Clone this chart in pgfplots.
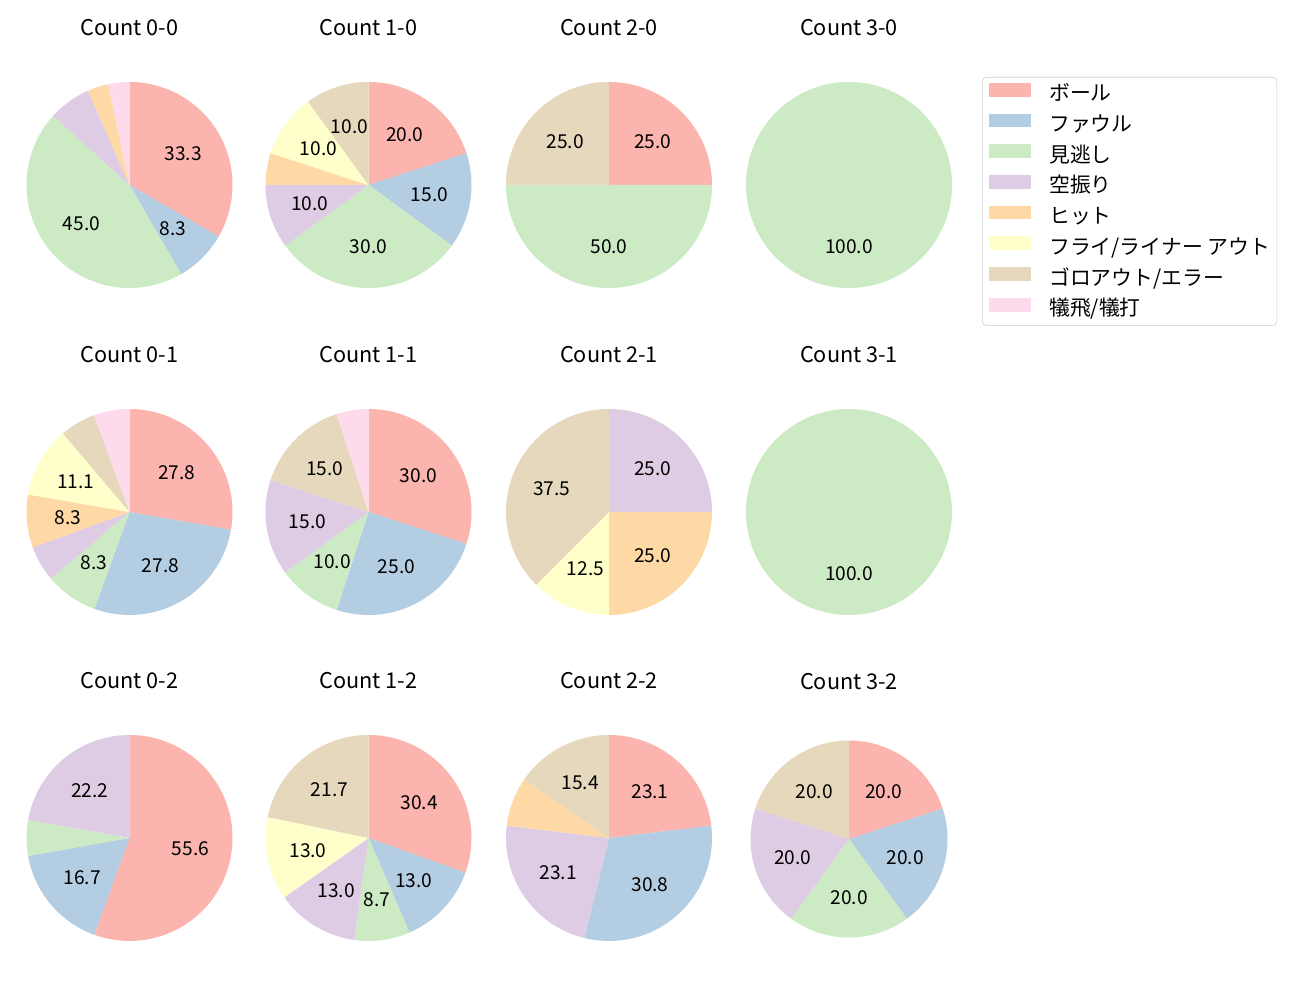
\documentclass[border=0pt]{standalone}
\usepackage{pgfplots}
\pgfplotsset{compat=1.18}
\usepackage{fontspec}
\setmainfont{Noto Sans CJK JP}
\definecolor{c1}{HTML}{FBB4AE}
\definecolor{c2}{HTML}{B3CDE3}
\definecolor{c3}{HTML}{CCEBC5}
\definecolor{c4}{HTML}{DECBE4}
\definecolor{c5}{HTML}{FED9A6}
\definecolor{c6}{HTML}{FFFFCC}
\definecolor{c7}{HTML}{E5D8BD}
\definecolor{c8}{HTML}{FDDAEC}
\pgfplotsset{legend image code/.code={\fill[#1, draw=none, sharp corners] (0pt,-1pt) rectangle (30.2pt,9pt);}}
\newcommand{\ttl}{\fontsize{15.6}{18}\selectfont}
\newcommand{\lbl}{\fontsize{13.8}{16}\selectfont}
% #1 cx px, #2 cy px (from top), #3 title, #4 radius px, #5 values, #6 axis options, #7 extra body
\newcommand{\pie}[7]{%
  \pgfmathsetmacro\R{0.72*#4}%
  \pgfmathsetmacro\D{2*\R}%
  \pgfmathsetmacro\LR{0.6*\R}%
  \pgfmathsetmacro\PX{0.72*#1}%
  \pgfmathsetmacro\PY{0.72*(1000-#2)}%
  \gdef\tot{0}%
  \foreach \v in {#5}{\pgfmathsetmacro\t{\tot+\v}\xdef\tot{\t}}%
  \begin{axis}[at={(\PX pt,\PY pt)}, anchor=center, scale only axis,
    width=\D pt, height=\D pt, hide axis, clip=false,
    xmin=-1, xmax=1, ymin=-1, ymax=1, #6]
  \addplot[draw=none, forget plot] coordinates {(0,0)};
  \gdef\cum{0}%
  \foreach \v [count=\i] in {#5}{%
    \pgfmathsetmacro\a{90-360*(\cum/\tot)}%
    \pgfmathsetmacro\b{90-360*((\cum+\v)/\tot)}%
    \pgfmathsetmacro\m{(\a+\b)/2}%
    \ifdim\v pt>0pt
      \edef\cmd{\noexpand\fill[c\i] (axis cs:0,0) -- ++(\a:\R pt) arc[start angle=\a, end angle=\b, radius=\R pt] -- cycle;}%
      \cmd
    \fi
    \ifdim\v pt>8pt
      \edef\cmd{\noexpand\node[font=\noexpand\lbl] at ([shift={(\m:\LR pt)}]axis cs:0,0) {\v};}%
      \cmd
    \fi
    \pgfmathsetmacro\nc{\cum+\v}%
    \xdef\cum{\nc}%
  }
  \node[font=\ttl] at ([yshift=113.04pt]axis cs:0,0) {#3};
  #7
  \end{axis}}
\begin{document}
\begin{tikzpicture}
\path[use as bounding box] (0pt,0pt) rectangle (936pt,720pt);
\pie{129.5}{185}{Count 0-0}{103}{33.3,8.3,45.0,6.7,3.3,0,0,3.3}{}{}
\pie{368.5}{185}{Count 1-0}{103}{20.0,15.0,30.0,10.0,5.0,10.0,10.0,0}{}{}
\pie{609}{185}{Count 2-0}{103}{25.0,0,50.0,0,0,0,25.0,0}{}{}
\pie{849}{185}{Count 3-0}{103}{0,0,100.0,0,0,0,0,0}{%
  legend style={at={(1.1456,1.0243)}, anchor=north west, draw=black!20,
    rounded corners=3pt, fill=white, font=\fontsize{15}{18}\selectfont,
    inner xsep=5pt, inner ysep=4pt, row sep=6.1pt,
    nodes={inner sep=0pt, text height=11pt, text depth=3pt},
    /tikz/every odd column/.append style={column sep=13pt}},
  legend cell align=left}{%
  \addlegendimage{fill=c1}\addlegendentry{ボール}
  \addlegendimage{fill=c2}\addlegendentry{ファウル}
  \addlegendimage{fill=c3}\addlegendentry{見逃し}
  \addlegendimage{fill=c4}\addlegendentry{空振り}
  \addlegendimage{fill=c5}\addlegendentry{ヒット}
  \addlegendimage{fill=c6}\addlegendentry{フライ/ライナー アウト}
  \addlegendimage{fill=c7}\addlegendentry{ゴロアウト/エラー}
  \addlegendimage{fill=c8}\addlegendentry{犠飛/犠打}}
\pie{129.5}{512}{Count 0-1}{103}{27.8,27.8,8.3,5.6,8.3,11.1,5.6,5.6}{}{}
\pie{368.5}{512}{Count 1-1}{103}{30.0,25.0,10.0,15.0,0,0,15.0,5.0}{}{}
\pie{609}{512}{Count 2-1}{103}{0,0,0,25.0,25.0,12.5,37.5,0}{}{}
\pie{849}{512}{Count 3-1}{103}{0,0,100.0,0,0,0,0,0}{}{}
\pie{129.5}{838}{Count 0-2}{103}{55.6,16.7,5.6,22.2,0,0,0,0}{}{}
\pie{368.5}{838}{Count 1-2}{103}{30.4,13.0,8.7,13.0,0,13.0,21.7,0}{}{}
\pie{609}{838}{Count 2-2}{103}{23.1,30.8,0,23.1,7.7,0,15.4,0}{}{}
\pie{849}{839}{Count 3-2}{98.5}{20.0,20.0,20.0,20.0,0,0,20.0,0}{}{}
\end{tikzpicture}
\end{document}
